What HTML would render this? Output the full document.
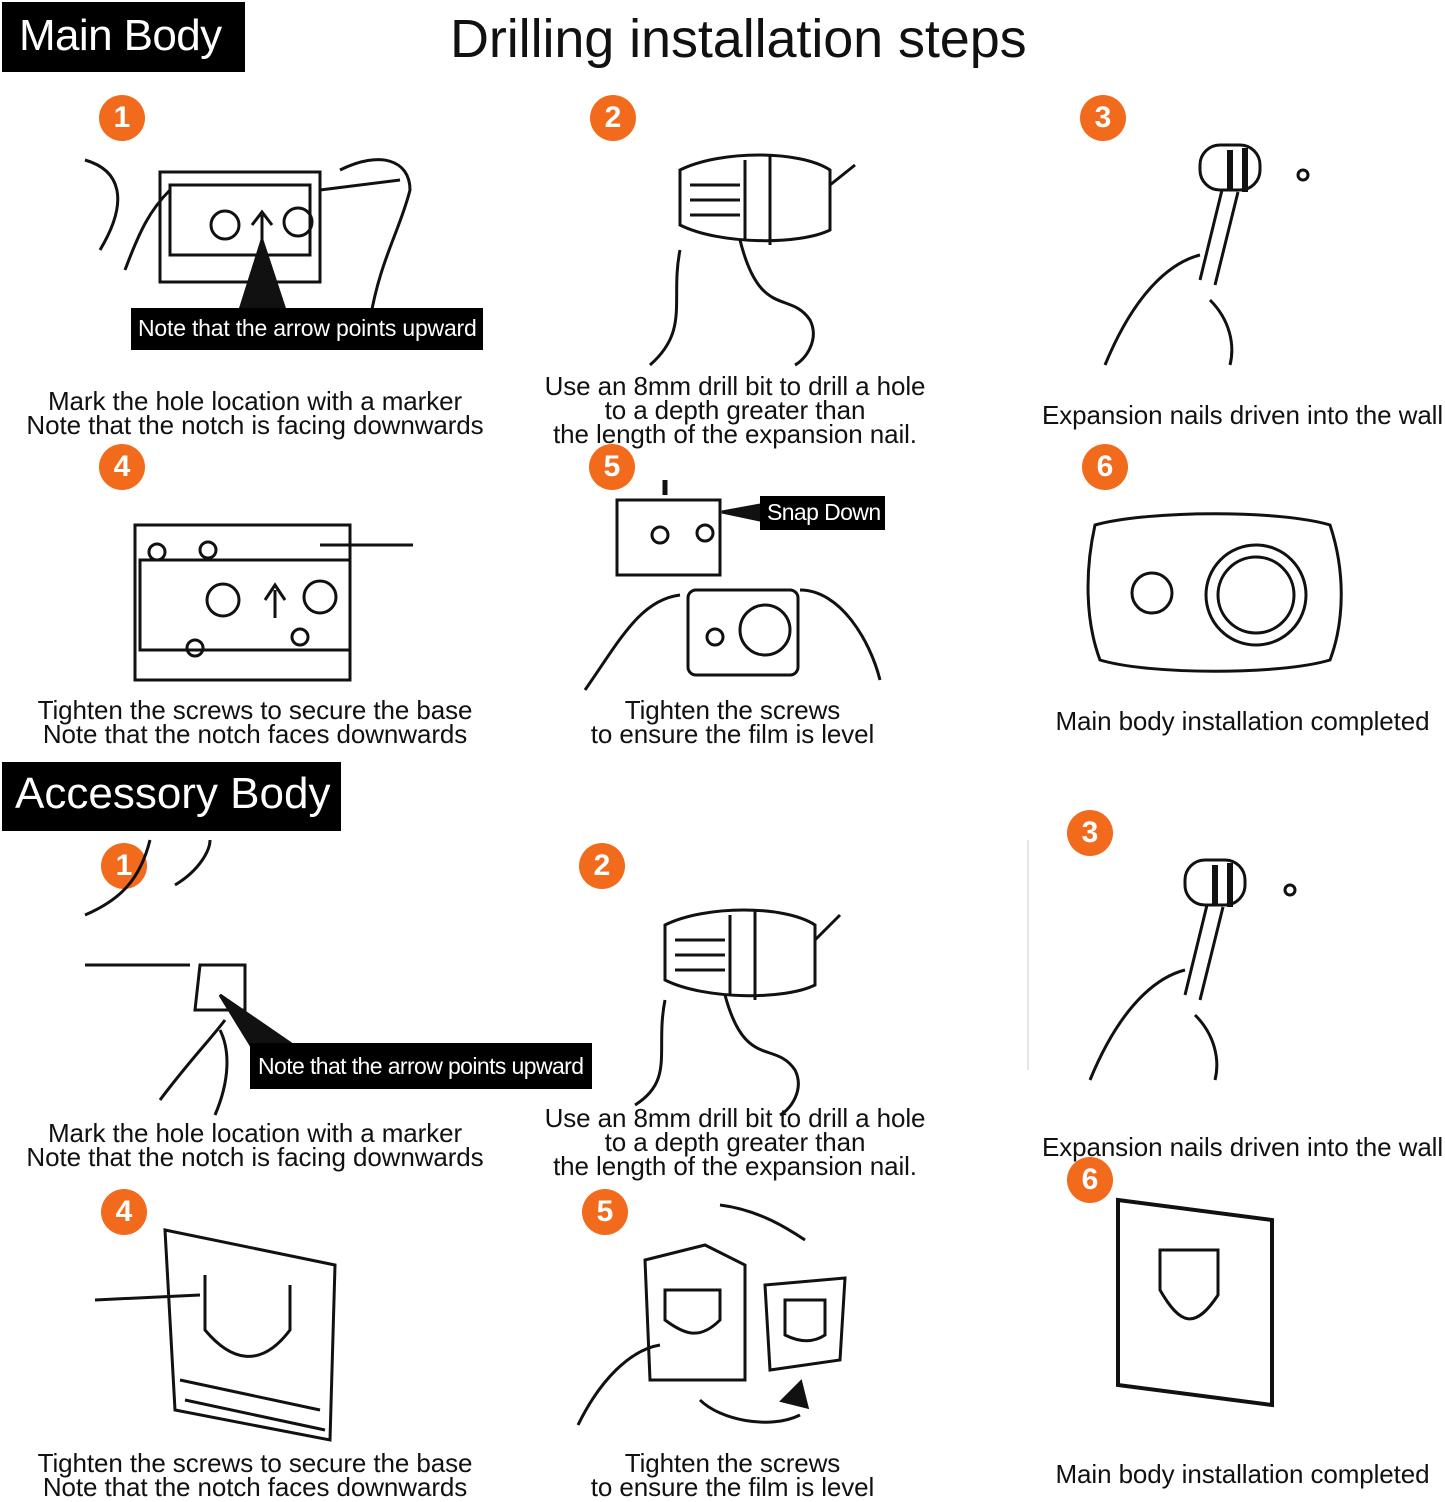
<!DOCTYPE html>
<html><head><meta charset="utf-8"><style>
body{margin:0;width:1445px;height:1500px;background:#fff;position:relative;overflow:hidden;font-family:"Liberation Sans",sans-serif;color:#111}
.a{position:absolute}
.hdr{position:absolute;background:#000;color:#fff;font-size:44px;letter-spacing:-1px;line-height:1}
.n{position:absolute;width:46px;height:46px;border-radius:50%;background:#f26a1b;color:#fff;font-size:30px;font-weight:bold;text-align:center;line-height:46px}
.c{position:absolute;font-size:26px;letter-spacing:-0.1px;line-height:24px;text-align:center;white-space:nowrap}
.lb{position:absolute;background:#000;color:#fff;font-size:23px;letter-spacing:-0.2px;line-height:1;white-space:nowrap}
svg{position:absolute;left:0;top:0}
</style></head><body>
<div class="hdr" style="left:2px;top:2px;width:243px;height:70px;"><span style="position:absolute;left:17px;top:12px;letter-spacing:-0.6px">Main Body</span></div>
<div class="a" style="left:450px;top:8px;font-size:54px;letter-spacing:-0.1px">Drilling installation steps</div>
<div class="hdr" style="left:2px;top:762px;width:339px;height:69px;"><span style="position:absolute;left:13px;top:10px;letter-spacing:0">Accessory Body</span></div>

<div class="n" style="left:99px;top:95px">1</div>
<div class="n" style="left:590px;top:95px">2</div>
<div class="n" style="left:1080px;top:95px">3</div>
<div class="n" style="left:99px;top:444px">4</div>
<div class="n" style="left:589px;top:444px">5</div>
<div class="n" style="left:1082px;top:444px">6</div>
<div class="n" style="left:101px;top:843px">1</div>
<div class="n" style="left:579px;top:843px">2</div>
<div class="n" style="left:1067px;top:810px">3</div>
<div class="n" style="left:101px;top:1189px">4</div>
<div class="n" style="left:582px;top:1189px">5</div>
<div class="n" style="left:1067px;top:1157px">6</div>

<svg width="1445" height="1500" fill="none" stroke="#111" stroke-width="3">
<rect x="160" y="172" width="160" height="110"/><rect x="170" y="185" width="140" height="70"/>
<circle cx="225" cy="225" r="14"/><circle cx="298" cy="222" r="14"/><path d="M262 245 V215 M252 225 L262 212 L272 225"/>
<path d="M85 160 C120 170 130 200 100 250 M125 270 C140 230 150 210 170 190 M320 190 L400 180 M340 170 C380 150 410 160 410 190 C400 230 380 260 370 320"/>
<path d="M240 310 L262 240 L285 310 Z" fill="#111"/>
<path d="M680 170 C720 150 800 150 830 170 L830 230 C800 245 720 245 680 225 Z"/><path d="M690 185 H740 M690 200 H740 M690 215 H740"/><path d="M745 160 V240 M770 155 V245"/><path d="M830 185 L855 165"/>
<path d="M680 250 C670 300 690 330 650 365 M740 240 C760 320 790 290 810 320 C820 340 805 360 795 365"/>
<rect x="1200" y="145" width="60" height="45" rx="20"/><path d="M1230 150 V190 M1245 148 V192" stroke-width="6"/><path d="M1222 190 L1200 280 M1238 192 L1215 285"/>
<path d="M1105 365 C1140 280 1180 260 1200 255 M1210 300 C1230 320 1235 345 1230 365"/><circle cx="1303" cy="175" r="5"/>
<rect x="135" y="525" width="215" height="155"/><rect x="140" y="560" width="210" height="90"/>
<circle cx="223" cy="600" r="16"/><circle cx="320" cy="597" r="16"/><path d="M275 618 V590 M265 600 L275 585 L285 600"/>
<circle cx="157" cy="552" r="8"/><circle cx="208" cy="550" r="8"/><circle cx="195" cy="648" r="8"/><circle cx="300" cy="637" r="8"/><path d="M320 545 H413"/>
<rect x="617" y="500" width="103" height="75"/><circle cx="660" cy="535" r="8"/><circle cx="705" cy="533" r="8"/>
<path d="M665 480 V495" stroke-width="5"/><path d="M722 512 L760 505 L760 520 Z" fill="#111"/>
<rect x="688" y="590" width="110" height="85" rx="8"/><circle cx="765" cy="630" r="25"/><circle cx="715" cy="637" r="8"/>
<path d="M585 690 C620 640 640 600 680 595 M800 590 C840 590 870 640 880 680"/>
<path d="M1095 525 C1150 510 1280 510 1330 525 C1345 570 1345 620 1330 660 C1280 675 1150 675 1100 660 C1085 620 1085 570 1095 525 Z"/>
<circle cx="1152" cy="593" r="20"/><circle cx="1256" cy="595" r="50"/><circle cx="1256" cy="595" r="38"/>
<path d="M85 915 C120 900 140 880 150 840 M175 885 C200 870 210 850 210 840 M85 965 H190 M200 965 H245 V1010 H195 Z M160 1100 C190 1060 210 1040 225 1020 M215 1115 C230 1080 230 1050 220 1030"/>
<path d="M220 995 L300 1050 L260 1060 Z" fill="#111"/>
<path d="M665 925 C705 905 785 905 815 925 L815 985 C785 1000 705 1000 665 980 Z"/><path d="M675 940 H725 M675 955 H725 M675 970 H725"/><path d="M730 915 V995 M755 910 V1000"/><path d="M815 940 L840 915"/>
<path d="M665 1000 C655 1050 675 1080 635 1105 M725 995 C745 1070 775 1040 795 1070 C805 1090 790 1110 780 1115"/>
<rect x="1185" y="860" width="60" height="45" rx="20"/><path d="M1215 865 V905 M1230 863 V907" stroke-width="6"/><path d="M1207 905 L1185 995 M1223 907 L1200 1000"/>
<path d="M1090 1080 C1125 995 1165 975 1185 970 M1195 1015 C1215 1035 1220 1060 1215 1080"/><circle cx="1290" cy="890" r="5"/>
<path d="M1028 840 V1070" stroke="#ccc" stroke-width="1"/>
<path d="M165 1230 L335 1265 L330 1440 L175 1410 Z"/><path d="M205 1275 V1330 C230 1360 260 1370 290 1330 V1285"/><path d="M95 1300 L200 1295"/><path d="M180 1380 L320 1410 M185 1400 L325 1430"/>
<path d="M645 1260 L705 1245 L745 1265 V1380 L650 1380 Z"/><path d="M665 1290 H720 V1320 C700 1340 685 1335 665 1320 Z"/>
<path d="M765 1285 L845 1278 L840 1360 L770 1370 Z"/><path d="M785 1300 H825 V1335 C810 1345 795 1340 785 1335 Z"/>
<path d="M578 1425 C600 1380 630 1350 660 1345 M720 1205 C760 1210 790 1230 805 1240 M700 1400 C720 1420 770 1430 800 1415"/>
<path d="M785 1400 L800 1385 L805 1405 Z" fill="#111" stroke-width="6"/>
<path d="M1118 1200 L1272 1220 V1405 L1118 1385 Z" stroke-width="4"/><path d="M1160 1250 H1218 V1295 C1195 1330 1180 1325 1160 1290 Z"/>
</svg>

<div class="lb" style="left:131px;top:308px;width:352px;height:42px;"><span style="position:absolute;left:7px;top:9px">Note that the arrow points upward</span></div>
<div class="lb" style="left:760px;top:496px;width:125px;height:34px;"><span style="position:absolute;left:7px;top:5px;letter-spacing:-0.6px">Snap Down</span></div>
<div class="lb" style="left:250px;top:1043px;width:342px;height:46px;"><span style="position:absolute;left:8px;top:12px;letter-spacing:-0.6px">Note that the arrow points upward</span></div>

<div class="c" style="left:25px;top:389px;width:460px">Mark the hole location with a marker<br>Note that the notch is facing downwards</div>
<div class="c" style="left:520px;top:374px;width:430px">Use an 8mm drill bit to drill a hole<br>to a depth greater than<br>the length of the expansion nail.</div>
<div class="c" style="left:1040px;top:403px;width:405px">Expansion nails driven into the wall</div>
<div class="c" style="left:25px;top:698px;width:460px">Tighten the screws to secure the base<br>Note that the notch faces downwards</div>
<div class="c" style="left:570px;top:698px;width:325px">Tighten the screws<br>to ensure the film is level</div>
<div class="c" style="left:1040px;top:709px;width:405px">Main body installation completed</div>
<div class="c" style="left:25px;top:1121px;width:460px">Mark the hole location with a marker<br>Note that the notch is facing downwards</div>
<div class="c" style="left:520px;top:1106px;width:430px">Use an 8mm drill bit to drill a hole<br>to a depth greater than<br>the length of the expansion nail.</div>
<div class="c" style="left:1040px;top:1135px;width:405px">Expansion nails driven into the wall</div>
<div class="c" style="left:25px;top:1451px;width:460px">Tighten the screws to secure the base<br>Note that the notch faces downwards</div>
<div class="c" style="left:570px;top:1451px;width:325px">Tighten the screws<br>to ensure the film is level</div>
<div class="c" style="left:1040px;top:1462px;width:405px">Main body installation completed</div>
</body></html>
